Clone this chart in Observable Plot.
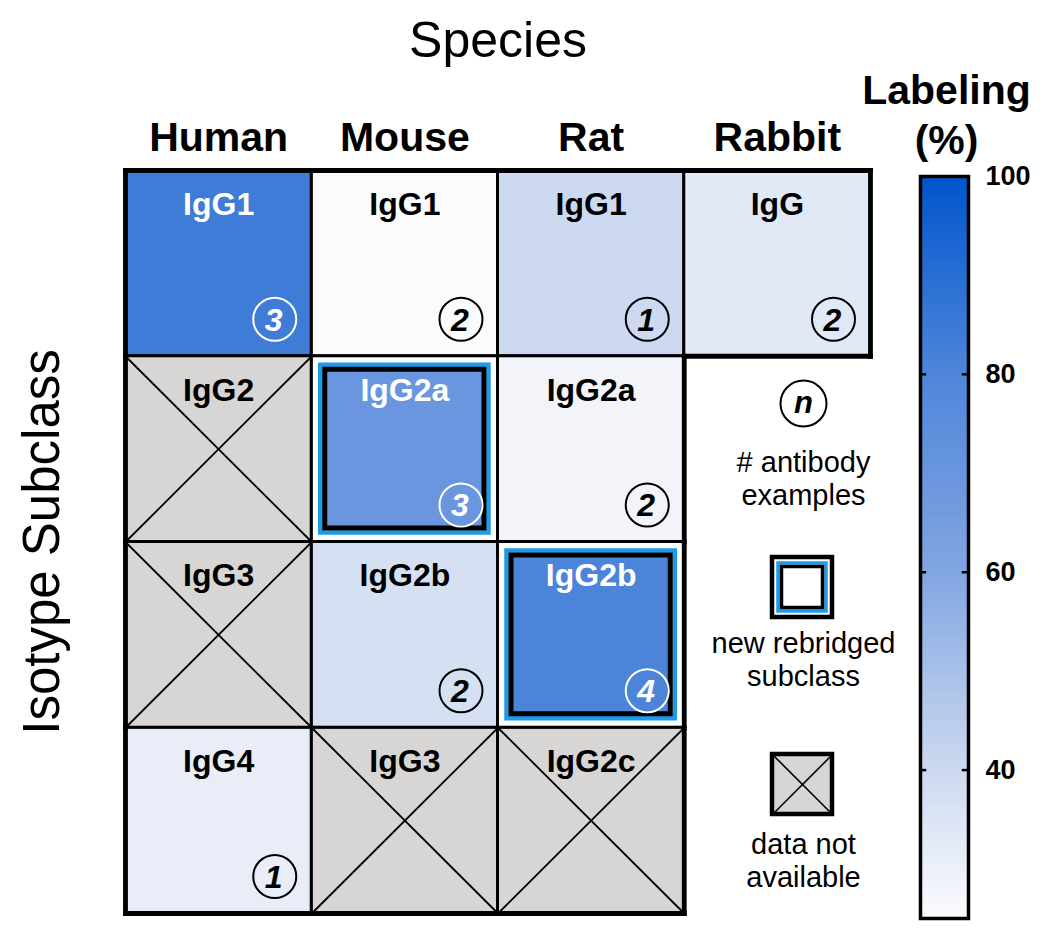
<!DOCTYPE html>
<html>
<head>
<meta charset="utf-8">
<script src="https://cdn.jsdelivr.net/npm/d3@7"></script>
<script src="https://cdn.jsdelivr.net/npm/@observablehq/plot@0.6"></script>
<style>
  html, body { margin: 0; padding: 0; background: white; }
  #wrap { position: relative; width: 1050px; height: 945px; }
  #wrap > svg { position: absolute; }
</style>
</head>
<body>
<div id="wrap"></div>
<script>
// ---------- data ----------
const species = ["Human", "Mouse", "Rat", "Rabbit"];
const subclassNames = [
  ["IgG1", "IgG2", "IgG3", "IgG4"],
  ["IgG1", "IgG2a", "IgG2b", "IgG3"],
  ["IgG1", "IgG2a", "IgG2b", "IgG2c"],
  ["IgG"]
];
const labeling = [
  [84, null, null, 31],
  [25, 70, 37, null],
  [40, 28, 81, null],
  [33]
];
const examples = [
  [3, null, null, 1],
  [2, 3, 2, null],
  [1, 2, 4, null],
  [2]
];
const rebridged = ["Mouse IgG2a", "Rat IgG2b"];
const colorTicks = [40, 60, 80, 100];
const colorStops = [25, 40, 60, 80, 100];
const colorRange = ["#FBFBFD", "#CCD9F0", "#82A5E1", "#4F86DA", "#0055CC"];
const legendTexts = {
  n: "n",
  count: ["# antibody", "examples"],
  fresh: ["new rebridged", "subclass"],
  na: ["data not", "available"]
};

// ---------- derived table ----------
const cells = [];
species.forEach((sp, i) => subclassNames[i].forEach((sc, j) => {
  cells.push({
    species: sp, subclass: sc, col: i, row: j,
    value: labeling[i][j], n: examples[i][j],
    fresh: rebridged.includes(sp + " " + sc)
  });
}));
const valued = cells.filter(d => d.value != null);
const plain = valued.filter(d => !d.fresh);
const fresh = valued.filter(d => d.fresh);
const na = cells.filter(d => d.value == null);
const withN = cells.filter(d => d.n != null);
const occupied = new Set(cells.map(d => d.col + "," + d.row));
const has = (c, r) => occupied.has(c + "," + r);
const edges = [];
cells.forEach(d => {
  const c = d.col, r = d.row;
  if (!has(c, r - 1)) edges.push({x1: c, y1: r, x2: c + 1, y2: r});
  if (!has(c, r + 1)) edges.push({x1: c, y1: r + 1, x2: c + 1, y2: r + 1});
  if (!has(c - 1, r)) edges.push({x1: c, y1: r, x2: c, y2: r + 1});
  if (!has(c + 1, r)) edges.push({x1: c + 1, y1: r, x2: c + 1, y2: r + 1});
});

// ---------- layout ----------
const FONT = "'Liberation Sans', Arial, Helvetica, sans-serif";
const X = {domain: [0, 4], range: [125, 870]};
const Y = {domain: [0, 4], range: [170, 913]};
const xs = Plot.scale({x: X});
const ys = Plot.scale({y: Y});
const px = v => xs.invert(v), py = v => ys.invert(v);
const color = {type: "linear", domain: colorStops, range: colorRange};
const ink = d => d.value >= 60 ? "white" : "black";
const one = [0];

const LX = 803; // legend centre (px)

const main = Plot.plot({
  width: 1050, height: 945, margin: 0,
  x: {...X, axis: null}, y: {...Y, axis: null}, color,
  style: {background: "white", fontFamily: FONT},
  marks: [
    Plot.rect(plain, {x1: "col", x2: d => d.col + 1, y1: "row", y2: d => d.row + 1, fill: "value"}),
    Plot.rect(fresh, {x1: "col", x2: d => d.col + 1, y1: "row", y2: d => d.row + 1, fill: "white"}),
    Plot.rect(na, {x1: "col", x2: d => d.col + 1, y1: "row", y2: d => d.row + 1, fill: "#D8D6D4"}),
    Plot.link(na, {x1: "col", y1: "row", x2: d => d.col + 1, y2: d => d.row + 1, stroke: "black", strokeWidth: 1.8}),
    Plot.link(na, {x1: "col", y1: d => d.row + 1, x2: d => d.col + 1, y2: "row", stroke: "black", strokeWidth: 1.8}),
    Plot.rect(cells, {x1: "col", x2: d => d.col + 1, y1: "row", y2: d => d.row + 1, fill: "none", stroke: "black", strokeWidth: 2.8}),
    Plot.link(edges, {x1: "x1", y1: "y1", x2: "x2", y2: "y2", stroke: "black", strokeWidth: 4.8, strokeLinecap: "square"}),
    Plot.rect(fresh, {x1: "col", x2: d => d.col + 1, y1: "row", y2: d => d.row + 1, inset: 9, fill: "none", stroke: "#1C9AEC", strokeWidth: 4.5}),
    Plot.rect(fresh, {x1: "col", x2: d => d.col + 1, y1: "row", y2: d => d.row + 1, inset: 13.5, fill: "value", stroke: "black", strokeWidth: 5}),
    Plot.text(cells, {x: d => d.col + 0.5, y: "row", dy: 34, text: "subclass", fill: ink, fontSize: 32, fontWeight: "bold"}),
    Plot.dot(withN, {x: d => d.col + 1, y: d => d.row + 1, dx: -37, dy: -37, r: 21.5, fill: "none", stroke: ink, strokeWidth: 2}),
    Plot.text(withN, {x: d => d.col + 1, y: d => d.row + 1, dx: -38, dy: -36, text: d => String(d.n), fill: ink, fontSize: 32, fontWeight: "bold", fontStyle: "italic"}),
    // headers
    Plot.text(species, {x: (d, i) => i + 0.5, y: () => 0, dy: -33, text: d => d, fontSize: 41, fontWeight: "bold", fill: "black"}),
    Plot.text(["Species"], {x: () => 2, y: () => 0, dy: -130, text: d => d, fontSize: 50, fill: "black"}),
    Plot.text(["Isotype Subclass"], {x: () => 0, y: () => 2, dx: -83, rotate: -90, text: d => d, fontSize: 51, fill: "black"}),
    Plot.text(["Labeling", "(%)"], {x: () => px(946), y: (d, i) => py(i ? 140 : 90), text: d => d, fontSize: 41, fontWeight: "bold", fill: "black"}),
    // legend: count circle
    Plot.dot(one, {x: () => px(LX), y: () => py(403), r: 23, fill: "white", stroke: "black", strokeWidth: 2}),
    Plot.text([legendTexts.n], {x: () => px(LX), y: () => py(403), text: d => d, fontSize: 31, fontWeight: "bold", fontStyle: "italic", fill: "black"}),
    Plot.text(legendTexts.count, {x: () => px(LX), y: (d, i) => py(462 + 33 * i), text: d => d, fontSize: 29, fill: "black"}),
    // legend: new rebridged icon
    Plot.rect(one, {x1: () => px(772), x2: () => px(832), y1: () => py(557), y2: () => py(617), fill: "white", stroke: "black", strokeWidth: 4.5}),
    Plot.rect(one, {x1: () => px(772), x2: () => px(832), y1: () => py(557), y2: () => py(617), inset: 6, fill: "none", stroke: "#1C9AEC", strokeWidth: 3.5}),
    Plot.rect(one, {x1: () => px(772), x2: () => px(832), y1: () => py(557), y2: () => py(617), inset: 9.5, fill: "white", stroke: "black", strokeWidth: 3.5}),
    Plot.text(legendTexts.fresh, {x: () => px(LX), y: (d, i) => py(643 + 33 * i), text: d => d, fontSize: 29, fill: "black"}),
    // legend: not available icon
    Plot.rect(one, {x1: () => px(772), x2: () => px(832), y1: () => py(754), y2: () => py(814), fill: "#D8D6D4"}),
    Plot.link(one, {x1: () => px(772), x2: () => px(832), y1: () => py(754), y2: () => py(814), stroke: "black", strokeWidth: 1.6}),
    Plot.link(one, {x1: () => px(772), x2: () => px(832), y1: () => py(814), y2: () => py(754), stroke: "black", strokeWidth: 1.6}),
    Plot.rect(one, {x1: () => px(772), x2: () => px(832), y1: () => py(754), y2: () => py(814), fill: "none", stroke: "black", strokeWidth: 4.5}),
    Plot.text(legendTexts.na, {x: () => px(LX), y: (d, i) => py(844 + 33 * i), text: d => d, fontSize: 29, fill: "black"})
  ]
});
main.style.left = "0px"; main.style.top = "0px";

// ---------- colour bar ----------
const strips = d3.range(colorStops[0], colorStops[colorStops.length - 1], 0.5);
const bar = Plot.plot({
  width: 150, height: 790,
  marginLeft: 20, marginRight: 82, marginTop: 26, marginBottom: 22,
  x: {domain: [0, 1], axis: null},
  y: {domain: [colorStops[0], colorStops[colorStops.length - 1]], axis: null},
  color,
  style: {background: "transparent", fontFamily: FONT},
  marks: [
    Plot.rect(strips, {x1: 0, x2: 1, y1: d => d, y2: d => d + 0.6, fill: d => d + 0.25}),
    Plot.ruleY(colorTicks.filter(t => t < 100), {x1: 0, x2: 0.13, stroke: "black", strokeWidth: 2.5}),
    Plot.ruleY(colorTicks.filter(t => t < 100), {x1: 0.87, x2: 1, stroke: "black", strokeWidth: 2.5}),
    Plot.text(colorTicks, {x: 1, y: d => d, dx: 17, text: d => String(d), textAnchor: "start", fontSize: 27, fontWeight: "bold", fill: "black"}),
    Plot.frame({stroke: "black", strokeWidth: 3.5})
  ]
});
bar.style.left = "900px"; bar.style.top = "150px";

const wrap = document.getElementById("wrap");
wrap.appendChild(main);
wrap.appendChild(bar);
</script>
</body>
</html>
